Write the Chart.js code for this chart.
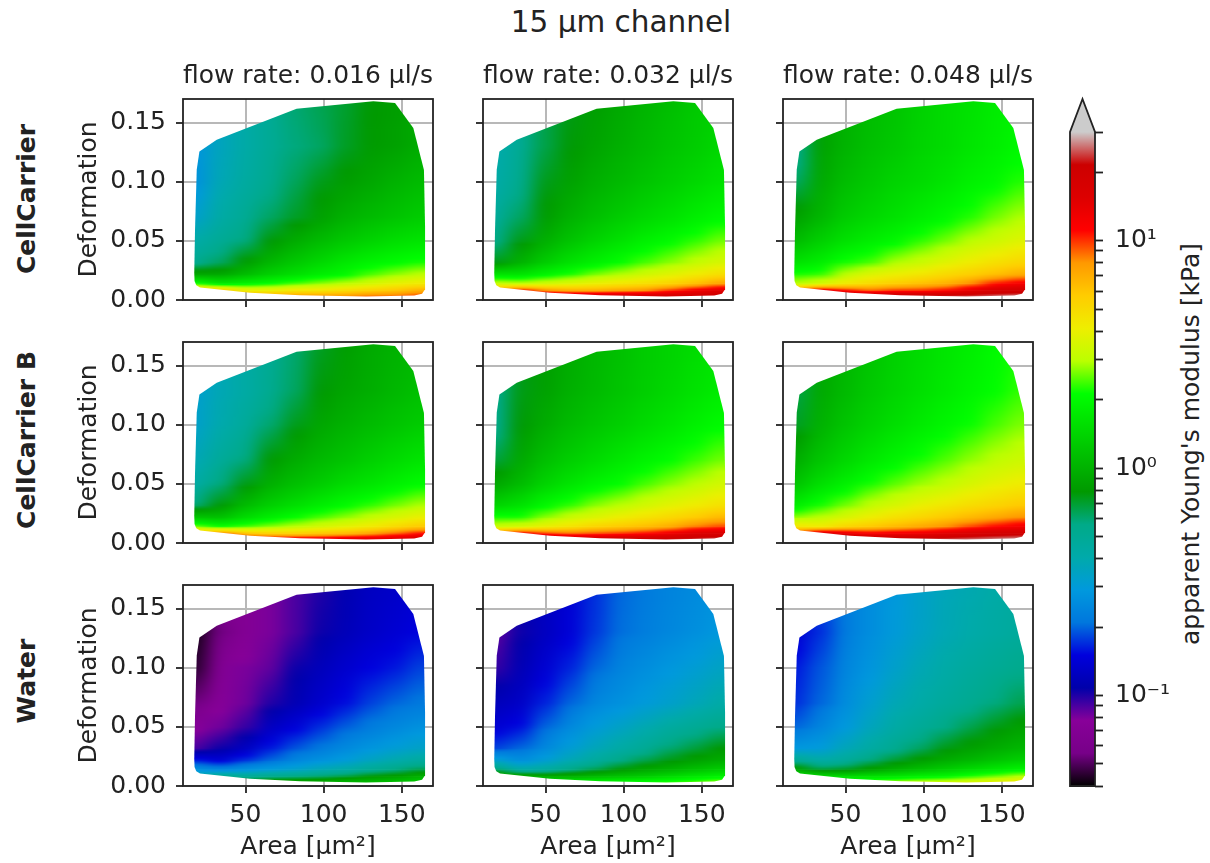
<!DOCTYPE html>
<html>
<head>
<meta charset="utf-8">
<script src="https://cdn.jsdelivr.net/npm/chart.js@4"></script>
<style>
  html, body { margin: 0; padding: 0; background: #fff; width: 1210px; height: 863px; overflow: hidden; }
  canvas { position: absolute; left: 0; top: 0; }
  .txt { position: absolute; font-family: "DejaVu Sans"; color: #222; white-space: nowrap; }
  #suptitle { left: 621px; top: 22px; font-size: 29.5px; transform: translate(-50%, -50%); }
  .rowlabel { left: 26px; font-size: 25px; font-weight: bold; transform: translate(-50%, -50%) rotate(-90deg); }
  #barlabel { left: 1190px; top: 444px; font-size: 25px; transform: translate(-50%, -50%) rotate(-90deg); }
</style>
</head>
<body>
<svg width="0" height="0" style="position:absolute">
  <filter id="soften" x="-5%" y="-5%" width="110%" height="110%" color-interpolation-filters="sRGB">
    <feGaussianBlur stdDeviation="9 0.6"/>
  </filter>
</svg>
<div class="txt" id="suptitle">15 µm channel</div>
<div class="txt rowlabel" style="top:199px">CellCarrier</div>
<div class="txt rowlabel" style="top:440px">CellCarrier B</div>
<div class="txt rowlabel" style="top:681px">Water</div>
<div class="txt" id="barlabel">apparent Young's modulus [kPa]</div>
<script>
// axes
const xTicks = [50, 100, 150];
const yTicks = [0, 0.05, 0.10, 0.15];
const flowRates = ['flow rate: 0.016 µl/s', 'flow rate: 0.032 µl/s', 'flow rate: 0.048 µl/s'];
const media = ['CellCarrier', 'CellCarrier B', 'Water'];

// colorbar ticks in kPa
const barTicks = [0.04, 0.05, 0.06, 0.07, 0.08, 0.09, 0.1, 0.2, 0.3, 0.4, 0.5, 0.6, 0.7, 0.8, 0.9,
                  1, 2, 3, 4, 5, 6, 7, 8, 9, 10, 20, 30];
const barLabels = { 0.1: '10⁻¹', 1: '10⁰', 10: '10¹' };

// outline of the measured region
const outlineArea = [17.2, 17.4, 18.5, 20.9, 52.9, 84.9, 127, 158, 163, 164.9, 164.9, 164.2, 157.4, 145.7, 131.8, 82.7, 31.6, 20.5, 18.8, 17.7];
const outlineDeformation = [0.023, 0.016, 0.0125, 0.0105, 0.0062, 0.004, 0.0029, 0.0038, 0.0052, 0.009, 0.0625, 0.110, 0.1455, 0.1666, 0.168, 0.1618, 0.1356, 0.1257, 0.1103, 0.0597];

// sample positions of the tables below
const areaColumns = [18, 34, 50, 66, 82, 98, 114, 130, 146, 162];
const deformationRows = [0.003, 0.008, 0.014, 0.022, 0.032, 0.05, 0.07, 0.10, 0.13, 0.17];

// Young's modulus in kPa, one line per area column, deformation going up
const carrier016 = [
  [8, 6, 2.2, 0.9, 0.52, 0.42, 0.33, 0.27, 0.28, 0.28],
  [10, 6, 1.7, 0.9, 0.62, 0.5, 0.43, 0.38, 0.36, 0.36],
  [8, 4, 1.9, 1.1, 0.82, 0.58, 0.5, 0.45, 0.42, 0.42],
  [8, 4, 2.1, 1.35, 1.05, 0.78, 0.62, 0.53, 0.5, 0.5],
  [8, 4.5, 2.4, 1.55, 1.25, 0.95, 0.72, 0.63, 0.58, 0.6],
  [8, 4.5, 2.7, 1.8, 1.45, 1.1, 0.85, 0.74, 0.62, 0.65],
  [8, 5, 3, 2, 1.7, 1.25, 1, 0.82, 0.72, 0.7],
  [9, 5.5, 3.4, 2.4, 1.9, 1.4, 1.1, 0.9, 0.8, 0.78],
  [9, 6, 3.9, 2.7, 2.05, 1.55, 1.2, 1, 0.85, 0.82],
  [10, 7, 4.3, 3, 2.2, 1.65, 1.3, 1.1, 0.95, 0.9]
];
const carrier032 = [
  [16, 7, 3.2, 1.6, 0.75, 0.55, 0.47, 0.42, 0.4, 0.4],
  [20, 12, 3, 1.6, 1, 0.75, 0.62, 0.53, 0.5, 0.5],
  [20, 8, 3.3, 1.9, 1.3, 0.98, 0.82, 0.74, 0.66, 0.65],
  [20, 7, 3.6, 2.2, 1.6, 1.2, 1, 0.86, 0.78, 0.75],
  [20, 7, 4, 2.6, 1.85, 1.4, 1.15, 0.98, 0.88, 0.82],
  [20, 7.5, 4.4, 2.9, 2.1, 1.6, 1.3, 1.08, 0.98, 0.92],
  [20, 8, 4.8, 3.3, 2.4, 1.85, 1.45, 1.2, 1.08, 1.02],
  [20, 10, 5.3, 3.7, 2.7, 2.05, 1.6, 1.32, 1.2, 1.12],
  [20, 12.5, 6.2, 4.2, 3.1, 2.3, 1.8, 1.45, 1.3, 1.25],
  [22, 15, 7.5, 4.8, 3.5, 2.6, 2, 1.6, 1.45, 1.35]
];
const carrier048 = [
  [20, 8, 3, 2.2, 1.6, 1.1, 0.85, 0.62, 0.5, 0.5],
  [25, 14, 3.4, 2.3, 1.8, 1.35, 1.05, 0.92, 0.85, 0.85],
  [25, 11, 4.3, 3, 2.2, 1.6, 1.3, 1.12, 1.02, 1],
  [25, 9, 5, 3.6, 2.4, 1.8, 1.45, 1.25, 1.15, 1.1],
  [25, 10, 5.6, 4, 2.9, 2, 1.6, 1.4, 1.25, 1.2],
  [25, 10, 6.2, 4.4, 3.2, 2.3, 1.8, 1.5, 1.4, 1.35],
  [25, 11, 6.8, 5, 3.7, 2.6, 2, 1.65, 1.5, 1.5],
  [25, 14, 8, 5.5, 4.2, 3, 2.25, 1.85, 1.65, 1.6],
  [26, 18, 10.5, 6.2, 4.7, 3.3, 2.6, 2, 1.8, 1.75],
  [27, 19, 12, 7, 5.2, 3.7, 2.9, 2.25, 2, 1.9]
];
const carrierB016 = [
  [10, 6, 2.6, 1.2, 0.6, 0.43, 0.38, 0.33, 0.32, 0.32],
  [18, 9, 2.1, 1.15, 0.78, 0.58, 0.48, 0.4, 0.38, 0.38],
  [15, 6, 2.4, 1.5, 1.1, 0.75, 0.58, 0.47, 0.43, 0.43],
  [14, 5.5, 2.7, 1.8, 1.35, 0.98, 0.8, 0.6, 0.52, 0.5],
  [14, 5.5, 3, 2.1, 1.55, 1.15, 0.95, 0.74, 0.62, 0.6],
  [14, 6, 3.4, 2.4, 1.8, 1.3, 1.08, 0.9, 0.78, 0.72],
  [15, 6.5, 3.8, 2.7, 2.05, 1.5, 1.2, 1, 0.88, 0.82],
  [15, 7.5, 4.3, 3.1, 2.3, 1.65, 1.35, 1.1, 0.96, 0.92],
  [16, 9, 5, 3.5, 2.6, 1.85, 1.5, 1.2, 1.05, 1],
  [18, 11, 5.8, 4, 2.9, 2.05, 1.65, 1.3, 1.15, 1.05]
];
const carrierB032 = [
  [18, 9, 3.2, 2.2, 1.4, 0.9, 0.68, 0.52, 0.5, 0.5],
  [22, 13, 3.4, 2.2, 1.6, 1.1, 0.92, 0.78, 0.75, 0.75],
  [22, 10, 4, 2.7, 2, 1.4, 1.15, 0.95, 0.85, 0.82],
  [20, 9, 4.6, 3.2, 2.3, 1.65, 1.33, 1.1, 0.98, 0.95],
  [20, 9.5, 5.3, 3.6, 2.7, 1.9, 1.5, 1.22, 1.08, 1.05],
  [22, 10, 5.8, 4.1, 3, 2.1, 1.7, 1.35, 1.2, 1.15],
  [22, 11, 6.3, 4.6, 3.4, 2.4, 1.9, 1.5, 1.32, 1.28],
  [22, 13, 7, 5.1, 3.8, 2.7, 2.1, 1.65, 1.45, 1.38],
  [24, 16, 8.5, 5.7, 4.2, 3, 2.35, 1.85, 1.6, 1.5],
  [26, 17, 9.5, 6.5, 4.7, 3.4, 2.6, 2.05, 1.75, 1.65]
];
const carrierB048 = [
  [22, 10, 4.5, 2.7, 1.8, 1.2, 0.95, 0.72, 0.65, 0.65],
  [25, 17, 4.2, 3, 2.2, 1.55, 1.22, 1, 0.92, 0.9],
  [25, 14, 5.2, 3.5, 2.6, 1.85, 1.45, 1.2, 1.08, 1.05],
  [25, 12, 5.8, 4.1, 3.1, 2.2, 1.7, 1.38, 1.25, 1.2],
  [25, 12.5, 6.5, 4.7, 3.5, 2.5, 1.95, 1.55, 1.4, 1.35],
  [25, 13, 7.2, 5.2, 4, 2.8, 2.2, 1.75, 1.55, 1.5],
  [25, 15, 8, 5.8, 4.4, 3.1, 2.45, 1.95, 1.72, 1.65],
  [26, 17, 9.5, 6.5, 4.9, 3.5, 2.75, 2.15, 1.9, 1.8],
  [27, 19, 11, 7.2, 5.3, 3.9, 3.05, 2.4, 2.1, 2],
  [28, 20, 12.5, 8, 5.8, 4.2, 3.3, 2.65, 2.3, 2.15]
];
const water016 = [
  [0.55, 0.4, 0.27, 0.16, 0.09, 0.075, 0.055, 0.045, 0.042, 0.042],
  [0.9, 0.55, 0.24, 0.14, 0.105, 0.082, 0.075, 0.07, 0.055, 0.06],
  [0.9, 0.5, 0.27, 0.17, 0.125, 0.095, 0.082, 0.08, 0.07, 0.07],
  [1, 0.55, 0.3, 0.2, 0.16, 0.125, 0.1, 0.085, 0.08, 0.08],
  [1, 0.58, 0.33, 0.24, 0.19, 0.145, 0.115, 0.105, 0.09, 0.09],
  [1, 0.62, 0.38, 0.27, 0.215, 0.17, 0.135, 0.12, 0.105, 0.1],
  [1.1, 0.68, 0.42, 0.3, 0.25, 0.195, 0.155, 0.135, 0.118, 0.113],
  [1.1, 0.78, 0.5, 0.35, 0.28, 0.22, 0.18, 0.15, 0.13, 0.125],
  [1.2, 0.85, 0.56, 0.4, 0.31, 0.245, 0.2, 0.16, 0.14, 0.13],
  [1.3, 1, 0.65, 0.45, 0.34, 0.27, 0.215, 0.18, 0.15, 0.14]
];
const water032 = [
  [1.5, 1.2, 0.6, 0.32, 0.18, 0.14, 0.12, 0.095, 0.085, 0.085],
  [1.6, 1, 0.42, 0.26, 0.2, 0.155, 0.13, 0.115, 0.105, 0.11],
  [1.8, 0.95, 0.45, 0.31, 0.25, 0.2, 0.165, 0.14, 0.125, 0.125],
  [1.9, 1, 0.55, 0.38, 0.31, 0.25, 0.2, 0.165, 0.145, 0.14],
  [2, 1.1, 0.65, 0.46, 0.37, 0.3, 0.245, 0.2, 0.175, 0.17],
  [2.1, 1.2, 0.78, 0.55, 0.43, 0.34, 0.27, 0.235, 0.205, 0.2],
  [2.2, 1.3, 0.9, 0.65, 0.5, 0.39, 0.3, 0.26, 0.225, 0.215],
  [2.3, 1.5, 1, 0.75, 0.6, 0.45, 0.33, 0.285, 0.245, 0.235],
  [2.5, 1.7, 1.15, 0.85, 0.68, 0.5, 0.37, 0.31, 0.265, 0.25],
  [2.8, 1.9, 1.3, 0.95, 0.78, 0.56, 0.42, 0.345, 0.29, 0.27]
];
const water048 = [
  [2, 1.8, 0.9, 0.5, 0.29, 0.2, 0.17, 0.16, 0.14, 0.14],
  [2.4, 1.5, 0.68, 0.42, 0.3, 0.24, 0.2, 0.19, 0.17, 0.18],
  [2.6, 1.5, 0.72, 0.47, 0.37, 0.29, 0.26, 0.24, 0.22, 0.22],
  [2.7, 1.6, 0.85, 0.58, 0.44, 0.36, 0.32, 0.28, 0.26, 0.26],
  [3, 1.7, 1, 0.7, 0.52, 0.43, 0.38, 0.33, 0.3, 0.29],
  [3.2, 1.9, 1.15, 0.82, 0.62, 0.49, 0.42, 0.38, 0.34, 0.33],
  [3.4, 2, 1.3, 0.95, 0.75, 0.56, 0.47, 0.42, 0.38, 0.37],
  [3.6, 2.3, 1.5, 1.05, 0.85, 0.65, 0.52, 0.46, 0.41, 0.39],
  [3.9, 2.6, 1.7, 1.2, 0.95, 0.75, 0.58, 0.5, 0.44, 0.42],
  [4.5, 3, 1.9, 1.35, 1.05, 0.85, 0.65, 0.54, 0.47, 0.45]
];
const panels = [
  [carrier016, carrier032, carrier048],
  [carrierB016, carrierB032, carrierB048],
  [water016, water032, water048]
];

// nipy_spectral
const colormap = [
  [0,0,0],[119,0,136],[136,0,153],[0,0,170],[0,0,221],[0,119,221],[0,153,221],
  [0,170,170],[0,170,136],[0,153,0],[0,187,0],[0,221,0],[0,255,0],[187,255,0],
  [238,238,0],[255,204,0],[255,153,0],[255,0,0],[221,0,0],[204,0,0],[204,204,204]
];
const vmin = 0.04, vmax = 30;

function colorAt(t) {
  t = Math.min(1, Math.max(0, t)) * (colormap.length - 1);
  const i = Math.min(colormap.length - 2, Math.floor(t));
  const f = t - i;
  const c = colormap[i].map((v, k) => Math.round(v + (colormap[i + 1][k] - v) * f));
  return 'rgb(' + c.join(',') + ')';
}
function colorFor(E) {
  return colorAt(Math.log(E / vmin) / Math.log(vmax / vmin));
}

const FONT = 'DejaVu Sans';
const FSIZE = 25;
const INK = '#222';
const GRID = '#b8b8b8';
const W = 1210, H = 863;

function makeCanvas() {
  const c = document.createElement('canvas');
  c.width = W; c.height = H;
  document.body.appendChild(c);
  return c;
}
function copyOf(canvas) {
  const c = document.createElement('canvas');
  c.width = canvas.width; c.height = canvas.height;
  c.getContext('2d').drawImage(canvas, 0, 0);
  return c;
}

// cells: one floating bar between two rows of a column, coloured along the modulus
function cellsOf(table) {
  const cells = [];
  const step = areaColumns[1] - areaColumns[0];
  const xs = [areaColumns[0] - step, ...areaColumns, areaColumns[areaColumns.length - 1] + step];
  xs.forEach((x, k) => {
    const col = table[Math.min(table.length - 1, Math.max(0, k - 1))];
    const last = deformationRows.length - 1;
    cells.push({ x, y: [-0.01, deformationRows[0]], low: col[0], high: col[0] });
    for (let j = 0; j < last; j++) {
      cells.push({ x, y: [deformationRows[j], deformationRows[j + 1]], low: col[j], high: col[j + 1] });
    }
    cells.push({ x, y: [deformationRows[last], 0.19], low: col[last], high: col[last] });
  });
  return cells;
}

function cellColor(ctx) {
  const cell = ctx.raw;
  const y = ctx.chart.scales.y;
  if (!cell || !y) return '#000';
  const y0 = y.getPixelForValue(cell.y[0]), y1 = y.getPixelForValue(cell.y[1]);
  if (!isFinite(y0) || !isFinite(y1)) return '#000';
  const g = ctx.chart.ctx.createLinearGradient(0, y0, 0, y1);
  for (let i = 0; i <= 6; i++) {
    g.addColorStop(i / 6, colorFor(cell.low * Math.pow(cell.high / cell.low, i / 6)));
  }
  return g;
}

// soften the cells and cut them to the outline, grid stays visible around it
const regionPlugin = {
  id: 'region',
  beforeDatasetsDraw(chart) { chart.$under = copyOf(chart.canvas); },
  afterDatasetsDraw(chart) {
    const ctx = chart.ctx, xs = chart.scales.x, ys = chart.scales.y, a = chart.chartArea;
    const bars = copyOf(chart.canvas);
    ctx.save();
    ctx.clearRect(0, 0, W, H);
    ctx.drawImage(chart.$under, 0, 0);
    ctx.beginPath();
    outlineArea.forEach((v, i) => {
      const px = xs.getPixelForValue(v), py = ys.getPixelForValue(outlineDeformation[i]);
      if (i) ctx.lineTo(px, py); else ctx.moveTo(px, py);
    });
    ctx.closePath();
    ctx.clip();
    ctx.filter = 'url(#soften)';
    ctx.drawImage(bars, 0, 0);
    ctx.restore();
    ctx.save();
    ctx.strokeStyle = INK;
    ctx.lineWidth = 1.8;
    ctx.strokeRect(a.left, a.top, a.right - a.left, a.bottom - a.top);
    ctx.restore();
  }
};

function panelChart(row, col) {
  const left = 183 + col * 300, top = 99 + row * 243;
  const bottomRow = row === 2, firstCol = col === 0, firstRow = row === 0;
  const xHeight = bottomRow ? 76 : 8;
  new Chart(makeCanvas(), {
    type: 'bar',
    data: {
      datasets: [{
        data: cellsOf(panels[row][col]),
        backgroundColor: cellColor,
        barPercentage: 1,
        categoryPercentage: 1,
        clip: false
      }]
    },
    options: {
      responsive: false,
      animation: false,
      devicePixelRatio: 1,
      events: [],
      layout: {
        padding: {
          left: left - 109,
          right: W - left - 250,
          top: firstRow ? top - 38 : top,
          bottom: H - top - 201 - xHeight
        }
      },
      plugins: {
        legend: { display: false },
        tooltip: { enabled: false },
        title: {
          display: firstRow,
          text: flowRates[col],
          fullSize: false,
          color: INK,
          font: { family: FONT, size: FSIZE, weight: 'normal', lineHeight: 1.2 },
          padding: { top: 0, bottom: 8 }
        }
      },
      scales: {
        x: {
          type: 'linear',
          offset: false,
          min: 10,
          max: 170,
          afterBuildTicks: s => { s.ticks = xTicks.map(v => ({ value: v })); },
          afterFit: s => { s.height = xHeight; },
          grid: { offset: false, color: GRID, lineWidth: 2, tickColor: INK, tickWidth: 1.8, tickLength: 7 },
          border: { display: false },
          ticks: {
            display: bottomRow,
            autoSkip: false,
            maxRotation: 0,
            padding: 7,
            color: INK,
            font: { family: FONT, size: FSIZE },
            callback: v => String(v)
          },
          title: {
            display: bottomRow,
            text: 'Area [µm²]',
            color: INK,
            padding: 0,
            font: { family: FONT, size: FSIZE, lineHeight: 1.2 }
          }
        },
        y: {
          type: 'linear',
          min: 0,
          max: 0.17,
          afterBuildTicks: s => { s.ticks = yTicks.map(v => ({ value: v })); },
          afterFit: s => { s.width = 109; },
          grid: { color: GRID, lineWidth: 2, tickColor: INK, tickWidth: 1.8, tickLength: 7 },
          border: { display: false },
          ticks: {
            display: firstCol,
            autoSkip: false,
            padding: 10,
            color: INK,
            font: { family: FONT, size: FSIZE },
            callback: v => v.toFixed(2)
          },
          title: {
            display: firstCol,
            text: 'Deformation',
            color: INK,
            padding: 0,
            font: { family: FONT, size: FSIZE, lineHeight: 1.2 }
          }
        }
      }
    },
    plugins: [regionPlugin]
  });
}

for (let r = 0; r < media.length; r++) {
  for (let c = 0; c < flowRates.length; c++) panelChart(r, c);
}

// colorbar
function barColor(ctx) {
  const y = ctx.chart.scales.y;
  if (!y) return '#000';
  const y0 = y.getPixelForValue(vmin), y1 = y.getPixelForValue(vmax);
  if (!isFinite(y0) || !isFinite(y1)) return '#000';
  const g = ctx.chart.ctx.createLinearGradient(0, y0, 0, y1);
  for (let i = 0; i <= 60; i++) g.addColorStop(i / 60, colorAt(i / 60));
  return g;
}

const colorbarFrame = {
  id: 'colorbarFrame',
  afterDatasetsDraw(chart) {
    const ctx = chart.ctx, a = chart.chartArea, y = chart.scales.y;
    const y0 = y.getPixelForValue(vmin), y1 = y.getPixelForValue(vmax);
    ctx.save();
    ctx.beginPath();
    ctx.moveTo(a.left, y1);
    ctx.lineTo((a.left + a.right) / 2, a.top);
    ctx.lineTo(a.right, y1);
    ctx.closePath();
    ctx.fillStyle = 'rgb(204,204,204)';
    ctx.fill();
    ctx.beginPath();
    ctx.moveTo(a.left, y0);
    ctx.lineTo(a.left, y1);
    ctx.lineTo((a.left + a.right) / 2, a.top);
    ctx.lineTo(a.right, y1);
    ctx.lineTo(a.right, y0);
    ctx.closePath();
    ctx.strokeStyle = INK;
    ctx.lineWidth = 1.8;
    ctx.stroke();
    ctx.restore();
  }
};

new Chart(makeCanvas(), {
  type: 'bar',
  data: {
    labels: ['E'],
    datasets: [{
      data: [[vmin, vmax]],
      backgroundColor: barColor,
      barPercentage: 1,
      categoryPercentage: 1
    }]
  },
  options: {
    responsive: false,
    animation: false,
    devicePixelRatio: 1,
    events: [],
    layout: { padding: { left: 1070, right: W - 1095 - 107, top: 99, bottom: H - 786 } },
    plugins: { legend: { display: false }, tooltip: { enabled: false } },
    scales: {
      x: { display: false },
      y: {
        type: 'logarithmic',
        position: 'right',
        min: vmin,
        max: 41.9,
        afterBuildTicks: s => { s.ticks = barTicks.map(v => ({ value: v })); },
        afterFit: s => { s.width = 107; },
        grid: { drawOnChartArea: false, tickColor: INK, tickWidth: 1.8, tickLength: 8 },
        border: { display: false },
        ticks: {
          autoSkip: false,
          padding: 12,
          color: INK,
          font: { family: FONT, size: FSIZE },
          callback: v => barLabels[v] || ''
        }
      }
    }
  },
  plugins: [colorbarFrame]
});
</script>
</body>
</html>
